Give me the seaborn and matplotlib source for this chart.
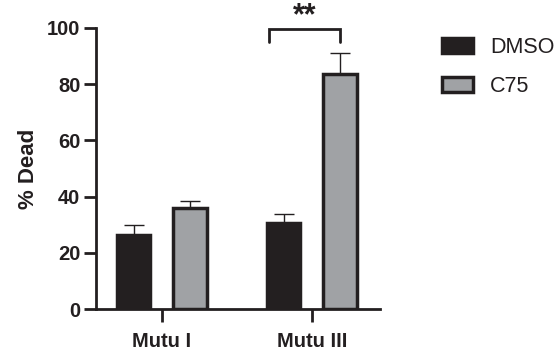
import matplotlib
matplotlib.use("Agg")
import matplotlib.pyplot as plt
import seaborn as sns
import pandas as pd

# Cell death after treatment, mean with upper SEM whisker
cell_lines = ["Mutu I", "Mutu III"]
treatments = ["DMSO", "C75"]
dmso_mean = [26.5, 30.8]
dmso_sem = [3.4, 3.0]
c75_mean = [36.0, 83.7]
c75_sem = [2.5, 7.4]
y_ticks = [0, 20, 40, 60, 80, 100]
signif_label = "**"

ink = "#231f20"
gray = "#a0a2a5"

df = pd.DataFrame({
    "line": cell_lines * 2,
    "treatment": [treatments[0]] * 2 + [treatments[1]] * 2,
    "dead": dmso_mean + c75_mean,
    "sem": dmso_sem + c75_sem,
})

sns.set_theme(style="ticks")
plt.rcParams["font.family"] = ["Liberation Sans", "DejaVu Sans"]

fig = plt.figure(figsize=(5.6, 3.55), dpi=100)
ax = fig.add_axes([0.171, 0.1287, 0.508, 0.7933])

sns.barplot(data=df, x="line", y="dead", hue="treatment", order=cell_lines,
            hue_order=treatments, palette=[ink, gray], width=0.75, gap=0.41,
            errorbar=None, edgecolor=ink, linewidth=2.5, saturation=1,
            ax=ax, zorder=3)

# upper-only error whiskers at each bar's centre
for cont, level in zip(ax.containers, treatments):
    sub = df[df["treatment"] == level].set_index("line").loc[cell_lines]
    xs = [b.get_x() + b.get_width() / 2 for b in cont]
    ax.errorbar(xs, sub["dead"], yerr=[[0] * len(xs), sub["sem"]], fmt="none",
                ecolor=ink, elinewidth=1.0, capsize=7, capthick=1.0, zorder=2,
                clip_on=False)

ax.set_xlim(-0.44, 1.455)
ax.set_ylim(0, 100)
ax.set_yticks(y_ticks)
ax.set_xlabel("")
ax.set_ylabel("% Dead", fontsize=16, fontweight="bold", color=ink, labelpad=6)
sns.despine(ax=ax)
for side in ("left", "bottom"):
    ax.spines[side].set_linewidth(2.0)
    ax.spines[side].set_color(ink)
ax.tick_params(axis="both", width=2.0, length=9, color=ink, labelcolor=ink,
               labelsize=14.5)
ax.tick_params(axis="x", pad=7)
ax.tick_params(axis="y", pad=2)
for lab in ax.get_xticklabels() + ax.get_yticklabels():
    lab.set_fontweight("bold")

# significance bracket over Mutu III
bx0, bx1 = 0.715, 1.19
top, leg = 99.5, 95.0
ax.plot([bx0, bx0, bx1, bx1], [leg, top, top, leg], color=ink, lw=2.0,
        clip_on=False, solid_joinstyle="miter", zorder=4)
ax.text((bx0 + bx1) / 2, 104.0, signif_label, ha="center", va="center",
        fontsize=22, fontweight="bold", color=ink, clip_on=False)

handles, labels = ax.get_legend_handles_labels()
ax.legend(handles, labels, loc="upper left", bbox_to_anchor=(441.7 / 560, 1 - 37 / 355),
          bbox_transform=fig.transFigure, frameon=False, fontsize=15.5,
          handlelength=1.44, handleheight=0.7, handletextpad=0.82,
          labelspacing=0.84, borderpad=0, borderaxespad=0)
for t in ax.get_legend().get_texts():
    t.set_color(ink)

fig.savefig("out.png", dpi=100)
